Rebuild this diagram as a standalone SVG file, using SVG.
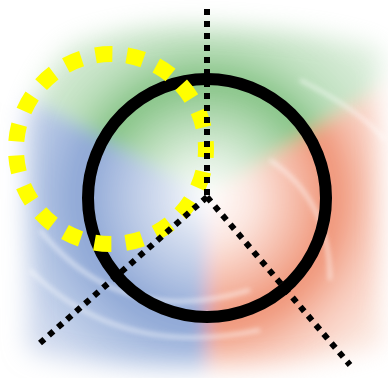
<svg xmlns="http://www.w3.org/2000/svg" width="388" height="378" viewBox="0 0 388 378">
  <defs>
    <filter id="blur" x="-20%" y="-20%" width="140%" height="140%"><feGaussianBlur stdDeviation="9"/></filter>
    <filter id="blurM" x="-20%" y="-20%" width="140%" height="140%"><feGaussianBlur stdDeviation="12"/></filter>
    <filter id="blurS" x="-20%" y="-20%" width="140%" height="140%"><feGaussianBlur stdDeviation="2.5"/></filter>
    <radialGradient id="gG" gradientUnits="userSpaceOnUse" cx="207" cy="197" r="210">
      <stop offset="0" stop-color="#7dbf7d" stop-opacity="0"/>
      <stop offset="0.2" stop-color="#7dbf7d" stop-opacity="0.25"/>
      <stop offset="0.55" stop-color="#6fb86f" stop-opacity="0.85"/>
      <stop offset="0.75" stop-color="#8cc78c" stop-opacity="0.55"/>
      <stop offset="1" stop-color="#a8d4a8" stop-opacity="0.4"/>
    </radialGradient>
    <radialGradient id="gR" gradientUnits="userSpaceOnUse" cx="207" cy="197" r="210">
      <stop offset="0" stop-color="#ef8564" stop-opacity="0"/>
      <stop offset="0.22" stop-color="#ef8564" stop-opacity="0.2"/>
      <stop offset="0.6" stop-color="#ec7f5c" stop-opacity="0.85"/>
      <stop offset="0.8" stop-color="#f29f84" stop-opacity="0.55"/>
      <stop offset="1" stop-color="#f5b8a0" stop-opacity="0.35"/>
    </radialGradient>
    <radialGradient id="gB" gradientUnits="userSpaceOnUse" cx="207" cy="197" r="210">
      <stop offset="0" stop-color="#7b98cf" stop-opacity="0"/>
      <stop offset="0.2" stop-color="#7b98cf" stop-opacity="0.3"/>
      <stop offset="0.6" stop-color="#6f8fca" stop-opacity="0.8"/>
      <stop offset="0.8" stop-color="#86a2d4" stop-opacity="0.65"/>
      <stop offset="1" stop-color="#9fb4dc" stop-opacity="0.5"/>
    </radialGradient>
    <mask id="fade" maskUnits="userSpaceOnUse" x="0" y="0" width="388" height="378">
      <rect x="0" y="0" width="388" height="378" fill="#000"/>
      <path d="M70 45 Q130 22 210 25 Q330 30 380 50 L382 345 Q300 372 200 368 Q100 372 28 350 L25 120 Q40 70 70 45 Z" fill="#fff" filter="url(#blurM)"/>
    </mask>
    <style>
      .dot{fill:none;stroke:#000;stroke-width:6;stroke-dasharray:6 6}
    </style>
  </defs>
  <rect width="388" height="378" fill="#fff"/>
  <g id="background" mask="url(#fade)">
    <g filter="url(#blur)">
      <polygon points="207,197 -107,23 -107,-200 600,-200 576,-34" fill="url(#gG)"/>
      <polygon points="207,197 576,-34 600,600 207,600" fill="url(#gR)"/>
      <polygon points="207,197 207,600 -200,600 -107,23" fill="url(#gB)"/>
    </g>
    <g filter="url(#blurS)" fill="none" stroke="#fff" stroke-opacity="0.7" stroke-width="3">
      <path d="M40 230 Q120 330 250 290"/>
      <path d="M30 270 Q120 360 260 330"/>
      <path d="M270 160 Q330 200 330 280"/>
      <path d="M300 80 Q360 110 385 140"/>
    </g>
  </g>
  <g id="nodes">
    <g id="outer-circle">
      <circle cx="207" cy="198" r="119" fill="none" stroke="#000" stroke-width="12"/>
    </g>
    <g id="yellow-circle">
      <circle cx="111" cy="149" r="95" fill="none" stroke="#ffff00" stroke-width="16" stroke-dasharray="17 14.42" stroke-dashoffset="8.5"/>
    </g>
  </g>
  <g id="connectors">
    <line class="dot" x1="207" y1="195" x2="207" y2="5"/>
    <line class="dot" x1="207" y1="197" x2="40" y2="343"/>
    <line class="dot" x1="207" y1="197" x2="350" y2="365"/>
  </g>
</svg>
